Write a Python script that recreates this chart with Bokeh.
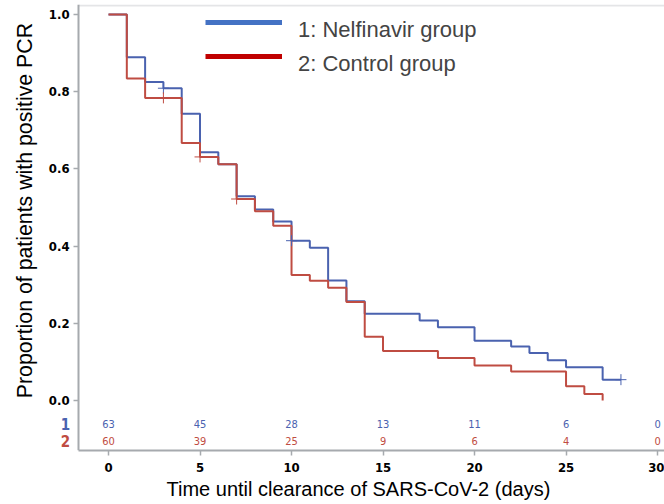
import math
from bokeh.plotting import figure
from bokeh.models import (Range1d, FixedTicker, Legend, Title, Label, BoxAnnotation,
                          LegendItem, ColumnDataSource, CustomJSTickFormatter)
from bokeh.core.properties import value
from bokeh.embed import file_html
from bokeh.resources import INLINE

# ---- data ----
days_1 = [0, 1, 2, 3, 4, 5, 6, 7, 8, 9, 10, 11, 12, 13, 14, 17, 18, 20, 22, 23, 24, 25, 27, 28]
surv_1 = [1.0, 0.889, 0.825, 0.809, 0.743, 0.643, 0.612, 0.529, 0.495, 0.464, 0.414, 0.396,
          0.311, 0.257, 0.225, 0.207, 0.190, 0.155, 0.140, 0.123, 0.104, 0.086, 0.054, 0.054]
days_2 = [0, 1, 2, 4, 5, 6, 7, 8, 9, 10, 11, 12, 13, 14, 15, 18, 20, 22, 25, 26, 27]
surv_2 = [1.0, 0.834, 0.784, 0.667, 0.631, 0.612, 0.522, 0.490, 0.453, 0.325, 0.310, 0.292,
          0.255, 0.165, 0.128, 0.110, 0.091, 0.075, 0.037, 0.017, 0.0]
cens_days_1 = [3, 10, 28]
cens_surv_1 = [0.809, 0.414, 0.054]
cens_days_2 = [3, 5, 7]
cens_surv_2 = [0.784, 0.631, 0.522]
risk_days = [0, 5, 10, 15, 20, 25, 30]
risk_1 = ["63", "45", "28", "13", "11", "6", "0"]
risk_2 = ["60", "39", "25", "9", "6", "4", "0"]
group_labels = ["1", "2"]
legend_labels = ["1: Nelfinavir group", "2: Control group"]
x_title = "Time until clearance of SARS-CoV-2 (days)"
y_title = "Proportion of patients with positive PCR"
x_ticks = [0, 5, 10, 15, 20, 25, 30]
y_ticks = [0.0, 0.2, 0.4, 0.6, 0.8, 1.0]

BLUE = "#4A62AF"
RED = "#BF4C42"
GRAY = "#A6AAAE"
COND = "DejaVu Sans Condensed, Liberation Sans"
SANS = "Liberation Sans"

# placement (data units)
axis_x = -1.639          # where the y axis stands
frame_top_y = 1.0233     # top border of the box
risk_row_y = [-0.062, -0.104]
group_label_x = -2.35
y_title_pos = (-4.59, 0.492)

p = figure(width=664, height=504, output_backend="svg", toolbar_location=None,
           x_range=Range1d(-5.902, 30.38), y_range=Range1d(-0.1295, 1.0259),
           min_border_left=0, min_border_right=0, min_border_top=4, min_border_bottom=54)
p.outline_line_color = None
p.xgrid.visible = False
p.ygrid.visible = False

for ax in (p.xaxis[0], p.yaxis[0]):
    ax.axis_line_color = GRAY
    ax.axis_line_width = 2
    ax.major_tick_line_color = GRAY
    ax.major_tick_line_width = 1.5
    ax.major_tick_out = 5
    ax.major_tick_in = 0
    ax.minor_tick_line_color = None
    ax.major_label_text_font = COND
    ax.major_label_text_font_style = "bold"
    ax.major_label_text_font_size = "13px"
    ax.major_label_text_color = "black"

p.xaxis.ticker = FixedTicker(ticks=x_ticks)
p.xaxis.bounds = (axis_x, 40)
p.yaxis.ticker = FixedTicker(ticks=y_ticks)
p.yaxis.formatter = CustomJSTickFormatter(code="return tick.toFixed(1)")
p.yaxis.fixed_location = axis_x
p.xaxis.major_label_standoff = 7
p.yaxis.major_label_standoff = 4

# top border of the plot box
p.add_layout(BoxAnnotation(left=axis_x, top=frame_top_y, bottom=frame_top_y, fill_alpha=0,
                           line_color=GRAY, line_width=2))

# axis titles
p.add_layout(Label(x=y_title_pos[0], y=y_title_pos[1], text=y_title, angle=math.pi / 2,
                   text_align="center", text_baseline="middle", text_font=SANS,
                   text_font_size="21.3px", text_color="black"))
p.add_layout(Title(text=x_title, align="left", offset=166, text_font=SANS,
                   text_font_style="normal", text_font_size="20px", text_color="black",
                   standoff=3), "below")

# curves
p.step(days_1, surv_1, mode="after", line_color=BLUE, line_width=2)
p.step(days_2, surv_2, mode="after", line_color=RED, line_width=2)
p.scatter(cens_days_1, cens_surv_1, marker="cross", size=11, line_color=BLUE, line_width=1)
p.scatter(cens_days_2, cens_surv_2, marker="cross", size=11, line_color=RED, line_width=1)

# number at risk
src1 = ColumnDataSource(dict(x=risk_days, y=[risk_row_y[0]] * len(risk_days), t=risk_1))
src2 = ColumnDataSource(dict(x=risk_days, y=[risk_row_y[1]] * len(risk_days), t=risk_2))
p.text("x", "y", text="t", source=src1, text_color=BLUE, text_align="center",
       text_baseline="middle", text_font=value(COND), text_font_size="11px")
p.text("x", "y", text="t", source=src2, text_color=RED, text_align="center",
       text_baseline="middle", text_font=value(COND), text_font_size="11px")
gsrc = ColumnDataSource(dict(x=[group_label_x] * 2, y=risk_row_y, t=group_labels,
                             c=[BLUE, RED]))
p.text("x", "y", text="t", source=gsrc, text_color="c", text_align="center",
       text_baseline="middle", text_font=value(COND), text_font_style="bold",
       text_font_size="15px")

# legend: swatches and texts as two overlaid legends (texts sit a little lower)
nan = float("nan")
lg1 = p.line(x=[nan], y=[nan], line_color="#4472C4", line_width=5)
lg2 = p.line(x=[nan], y=[nan], line_color="#C00000", line_width=5)
lg_blank = p.line(x=[nan], y=[nan], line_alpha=0)
common = dict(padding=0, margin=0, spacing=6, glyph_width=77, glyph_height=14,
              label_height=28, label_standoff=16, label_text_font=SANS,
              label_text_font_size="22px", border_line_color=None, background_fill_alpha=0)
swatches = Legend(items=[LegendItem(label=" ", renderers=[lg1]),
                         LegendItem(label=" ", renderers=[lg2])],
                  location=(205, 380), **common)
texts = Legend(items=[LegendItem(label=legend_labels[0], renderers=[lg_blank]),
                      LegendItem(label=legend_labels[1], renderers=[lg_blank])],
               location=(205, 372), **common)
p.add_layout(swatches)
p.add_layout(texts)

open("out.html", "w").write(file_html(p, INLINE))
